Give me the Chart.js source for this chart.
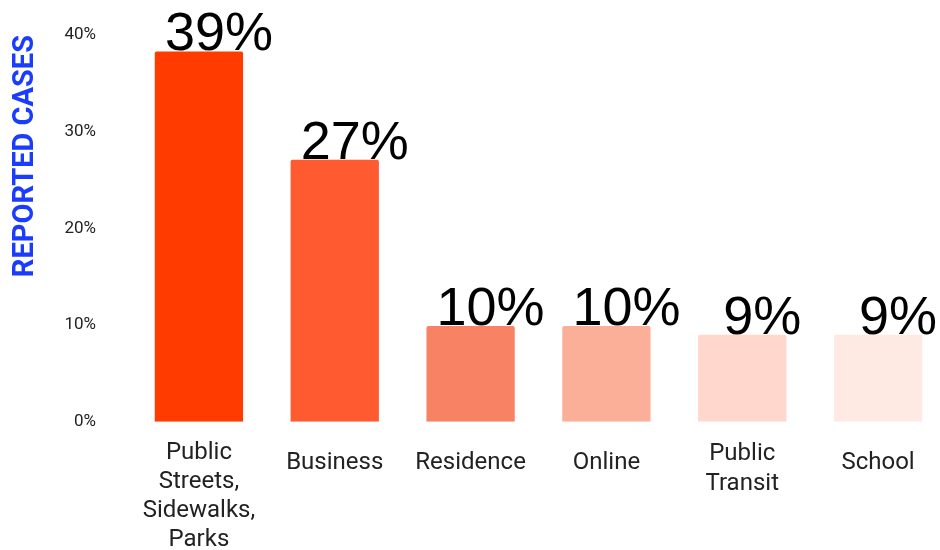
<!DOCTYPE html>
<html>
<head>
<meta charset="utf-8">
<script src="https://cdn.jsdelivr.net/npm/chart.js@4"></script>
<style>
  html, body { margin: 0; padding: 0; background: #fff; overflow: hidden; }
  #wrap { width: 946px; height: 571px; }
</style>
</head>
<body>
<div id="wrap"><canvas id="chart"></canvas></div>
<script>
// values
const categories = [
  ["Public", "Streets,", "Sidewalks,", "Parks"],
  "Business",
  "Residence",
  "Online",
  ["Public", "Transit"],
  "School",
];
const shares = [38.3, 27.1, 9.9, 9.9, 9.0, 9.0];
const shareLabels = ["39%", "27%", "10%", "10%", "9%", "9%"];
const barColors = ["#ff3b00", "#ff5a30", "#f88264", "#fcaf98", "#ffd7cd", "#ffe9e3"];
const yTicks = [0, 10, 20, 30, 40];

// big percentage labels over the bars
const bigLabels = {
  id: "bigLabels",
  afterDatasetsDraw(chart) {
    const ctx = chart.ctx;
    const meta = chart.getDatasetMeta(0);
    ctx.save();
    ctx.font = "54px 'Liberation Sans', Arial, sans-serif";
    ctx.fillStyle = "#000";
    ctx.textAlign = "center";
    ctx.textBaseline = "alphabetic";
    meta.data.forEach((bar, i) => {
      ctx.fillText(shareLabels[i], bar.x + 20, bar.y - 1);
    });
    ctx.restore();
  },
};

// single line labels sit a little lower than the wrapped ones
const xFont = (c) => {
  const lbl = categories[c.index];
  const lines = Array.isArray(lbl) ? lbl.length : 1;
  return {
    family: "Roboto",
    size: 24,
    lineHeight: lines === 1 ? 2.0 : lines === 2 ? 1.25 : 1.2,
  };
};

new Chart(document.getElementById("chart").getContext("2d"), {
  type: "bar",
  data: {
    labels: categories,
    datasets: [
      {
        data: shares,
        backgroundColor: barColors,
        borderRadius: 2,
        categoryPercentage: 1,
        barPercentage: 0.65,
      },
    ],
  },
  options: {
    responsive: true,
    maintainAspectRatio: false,
    animation: false,
    layout: { padding: { top: 35, right: 0, bottom: 0, left: 0 } },
    plugins: {
      legend: { display: false },
      tooltip: { enabled: false },
    },
    scales: {
      x: {
        grid: { display: false, drawTicks: false },
        border: { display: false },
        ticks: {
          color: "#222",
          padding: 17,
          maxRotation: 0,
          autoSkip: false,
          font: xFont,
        },
      },
      y: {
        min: 0,
        max: 40,
        afterBuildTicks: (s) => {
          s.ticks = yTicks.map((v) => ({ value: v }));
        },
        afterFit: (s) => {
          s.width = 131;
          s.paddingTop = 0;
          s.paddingBottom = 0;
        },
        grid: { display: false, drawTicks: false },
        border: { display: false },
        ticks: {
          color: "#222",
          padding: 35,
          font: { family: "Roboto", size: 17 },
          callback: (v) => v + "%",
        },
        title: {
          display: true,
          text: "REPORTED CASES",
          align: "end",
          color: "#1a3cff",
          padding: { top: 8, bottom: 0 },
          font: { family: "Roboto", size: 29, weight: "bold" },
        },
      },
    },
  },
  plugins: [bigLabels],
});
</script>
</body>
</html>
